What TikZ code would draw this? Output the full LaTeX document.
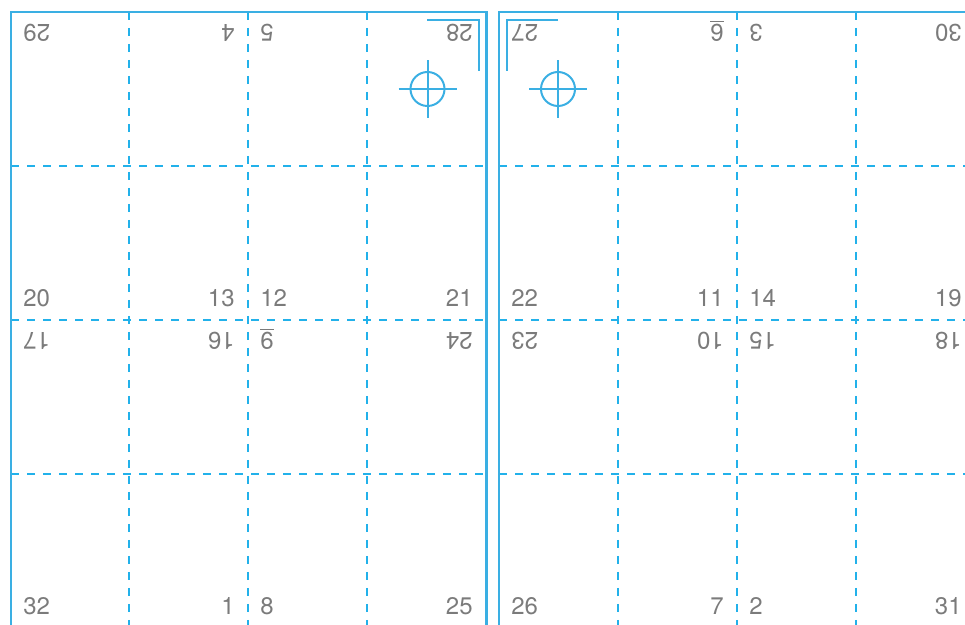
\documentclass[tikz,border=0pt]{standalone}
\usepackage{fontspec}
\setmainfont{TeX Gyre Heros}
\usepackage{xcolor}
\usepackage{tikz}
\definecolor{sheetblue}{HTML}{3AAFE3}
\definecolor{foldblue}{HTML}{22B1EA}
\definecolor{numgray}{HTML}{7B7B7B}
\tikzset{
  sheetedge/.style={draw=sheetblue, line width=1.1pt},
  foldline/.style={draw=foldblue, line width=0.95pt, dash pattern=on 4pt off 4pt},
  regmark/.style={draw=sheetblue, line width=1pt},
  pagenum/.style={
    inner sep=0pt, text=numgray,
    font=\fontsize{12}{14}\selectfont
  },
  pageflip/.style={pagenum, rotate=180},
}

\begin{document}
\begin{tikzpicture}[x=0.5pt, y=-0.5pt]
  \useasboundingbox (0,0) rectangle (965,625);
  \clip (0,0) rectangle (965,625);

  % folds
  \draw[foldline] (11,166) -- (486.5,166);
  \draw[foldline] (11,320) -- (486.5,320);
  \draw[foldline] (11,474) -- (486.5,474);
  \draw[foldline] (499,166) -- (980,166);
  \draw[foldline] (499,320) -- (980,320);
  \draw[foldline] (499,474) -- (980,474);
  \draw[foldline] (129,12) -- (129,640);
  \draw[foldline] (248,12) -- (248,640);
  \draw[foldline] (367,12) -- (367,640);
  \draw[foldline] (618,12) -- (618,640);
  \draw[foldline] (737,12) -- (737,640);
  \draw[foldline] (856,12) -- (856,640);

  % sheet edges
  \draw[sheetedge] (11,12) rectangle (486.5,640);
  \draw[sheetedge] (499,12) rectangle (980,640);

  % corner and register marks
  \draw[regmark] (427,20) -- (479,20) -- (479,71);
  \draw[regmark] (558,20) -- (507,20) -- (507,71);
  \coordinate (regL) at (427.5,89);
  \coordinate (regR) at (558,89);
  \draw[regmark] (regL) circle (8.5pt);
  \draw[regmark] ([xshift=-14.5pt]regL) -- ([xshift=14.5pt]regL);
  \draw[regmark] ([yshift=-14.5pt]regL) -- ([yshift=14.5pt]regL);
  \draw[regmark] (regR) circle (8.5pt);
  \draw[regmark] ([xshift=-14.5pt]regR) -- ([xshift=14.5pt]regR);
  \draw[regmark] ([yshift=-14.5pt]regR) -- ([yshift=14.5pt]regR);

  % first row (upside down)
  \node[pageflip, anchor=base east] (p29) at (23,25) {29};
  \node[pageflip, anchor=base west] (p4) at (235,25) {4};
  \node[pageflip, anchor=base east] (p5) at (260,25) {5};
  \node[pageflip, anchor=base west] (p28) at (473,25) {28};
  \node[pageflip, anchor=base east] (p27) at (511,25) {27};
  \node[pageflip, anchor=base west] (p6) at (724,25) {\underline{6}};
  \node[pageflip, anchor=base east] (p3) at (749,25) {3};
  \node[pageflip, anchor=base west] (p30) at (962,25) {30};

  % second row
  \node[pagenum, anchor=base west] (p20) at (23,307) {20};
  \node[pagenum, anchor=base east] (p13) at (235,307) {13};
  \node[pagenum, anchor=base west] (p12) at (260,307) {12};
  \node[pagenum, anchor=base east] (p21) at (473,307) {21};
  \node[pagenum, anchor=base west] (p22) at (511,307) {22};
  \node[pagenum, anchor=base east] (p11) at (724,307) {11};
  \node[pagenum, anchor=base west] (p14) at (749,307) {14};
  \node[pagenum, anchor=base east] (p19) at (962,307) {19};

  % third row (upside down)
  \node[pageflip, anchor=base east] (p17) at (23,333) {17};
  \node[pageflip, anchor=base west] (p16) at (235,333) {16};
  \node[pageflip, anchor=base east] (p9) at (260,333) {\underline{9}};
  \node[pageflip, anchor=base west] (p24) at (473,333) {24};
  \node[pageflip, anchor=base east] (p23) at (511,333) {23};
  \node[pageflip, anchor=base west] (p10) at (724,333) {10};
  \node[pageflip, anchor=base east] (p15) at (749,333) {15};
  \node[pageflip, anchor=base west] (p18) at (962,333) {18};

  % fourth row
  \node[pagenum, anchor=base west] (p32) at (23,615) {32};
  \node[pagenum, anchor=base east] (p1) at (235,615) {1};
  \node[pagenum, anchor=base west] (p8) at (260,615) {8};
  \node[pagenum, anchor=base east] (p25) at (473,615) {25};
  \node[pagenum, anchor=base west] (p26) at (511,615) {26};
  \node[pagenum, anchor=base east] (p7) at (724,615) {7};
  \node[pagenum, anchor=base west] (p2) at (749,615) {2};
  \node[pagenum, anchor=base east] (p31) at (962,615) {31};
\end{tikzpicture}
\end{document}
